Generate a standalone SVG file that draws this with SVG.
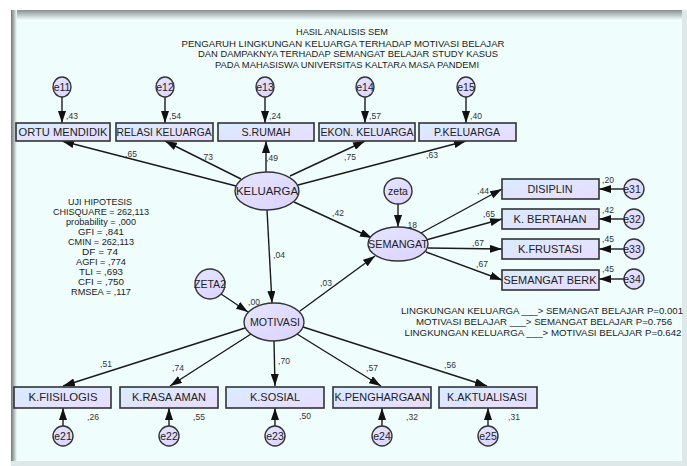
<svg xmlns="http://www.w3.org/2000/svg" width="687" height="466" viewBox="0 0 687 466">
<defs>
<linearGradient id="boxg" x1="0" y1="0" x2="1" y2="1">
<stop offset="0" stop-color="#d8ecff"/>
<stop offset="1" stop-color="#e9dcff"/>
</linearGradient>
<linearGradient id="ellg" x1="0" y1="0" x2="1" y2="1">
<stop offset="0" stop-color="#e4e6ff"/>
<stop offset="1" stop-color="#dcd2ff"/>
</linearGradient>
<linearGradient id="topsh" x1="0" y1="0" x2="0" y2="1">
<stop offset="0" stop-color="#8a9090"/>
<stop offset="1" stop-color="#f0fdfd"/>
</linearGradient>
<linearGradient id="leftsh" x1="0" y1="0" x2="1" y2="0">
<stop offset="0" stop-color="#6e7474"/>
<stop offset="1" stop-color="#f0fdfd"/>
</linearGradient>
<marker id="ah" viewBox="0 0 12 8" refX="12" refY="4" markerWidth="12" markerHeight="8" markerUnits="userSpaceOnUse" orient="auto">
<path d="M0,0 L12,4 L0,8 z" fill="#111"/>
</marker>
<style>
.box{fill:url(#boxg);stroke:#333;stroke-width:1.6}
.ell{fill:url(#ellg);stroke:#333;stroke-width:1.4}
.lbl{font-family:"Liberation Sans",Arial,sans-serif;font-size:10.5px;fill:#222;text-anchor:middle}
.elbl{font-family:"Liberation Sans",Arial,sans-serif;font-size:10.5px;fill:#222;text-anchor:middle}
.coef{font-family:"Liberation Sans",Arial,sans-serif;font-size:8.5px;fill:#333;text-anchor:middle}
.info{font-family:"Liberation Sans",Arial,sans-serif;font-size:9.5px;fill:#222;text-anchor:middle}
.edge{stroke:#1a1a1a;stroke-width:1.4;fill:none;marker-end:url(#ah)}
</style>
</defs>
<rect x="0" y="0" width="687" height="466" fill="#ffffff"/>
<rect x="11" y="10" width="676" height="456" fill="#f0fdfd"/>
<rect x="11" y="10" width="676" height="10" fill="url(#topsh)"/>
<rect x="11" y="10" width="6" height="456" fill="url(#leftsh)"/>
<rect x="682" y="10" width="5" height="456" fill="#dfe8e8"/>
<rect x="11" y="461" width="676" height="5" fill="#dfe8e8"/>

<g id="title">
<text class="info" x="342" y="35" textLength="92" lengthAdjust="spacingAndGlyphs">HASIL ANALISIS SEM</text>
<text class="info" x="343" y="47" textLength="323" lengthAdjust="spacingAndGlyphs">PENGARUH LINGKUNGAN KELUARGA TERHADAP MOTIVASI BELAJAR</text>
<text class="info" x="348" y="57" textLength="300" lengthAdjust="spacingAndGlyphs">DAN DAMPAKNYA TERHADAP SEMANGAT BELAJAR STUDY KASUS</text>
<text class="info" x="347" y="68" textLength="264" lengthAdjust="spacingAndGlyphs">PADA MAHASISWA UNIVERSITAS  KALTARA MASA PANDEMI</text>
</g>

<g id="stats">
<text class="info" x="100" y="205" textLength="64" lengthAdjust="spacingAndGlyphs">UJI HIPOTESIS</text>
<text class="info" x="101" y="215" textLength="96" lengthAdjust="spacingAndGlyphs">CHISQUARE = 262,113</text>
<text class="info" x="101" y="225" textLength="70" lengthAdjust="spacingAndGlyphs">probability = ,000</text>
<text class="info" x="101" y="235" textLength="46" lengthAdjust="spacingAndGlyphs">GFI = ,841</text>
<text class="info" x="101" y="245" textLength="66" lengthAdjust="spacingAndGlyphs">CMIN = 262,113</text>
<text class="info" x="100" y="255" textLength="36" lengthAdjust="spacingAndGlyphs">DF = 74</text>
<text class="info" x="101" y="265" textLength="50" lengthAdjust="spacingAndGlyphs">AGFI = ,774</text>
<text class="info" x="101" y="275" textLength="44" lengthAdjust="spacingAndGlyphs">TLI = ,693</text>
<text class="info" x="101" y="285" textLength="46" lengthAdjust="spacingAndGlyphs">CFI = ,750</text>
<text class="info" x="101" y="295" textLength="60" lengthAdjust="spacingAndGlyphs">RMSEA = ,117</text>
</g>

<g id="pvalues">
<text class="info" x="542" y="314" textLength="282" lengthAdjust="spacingAndGlyphs">LINGKUNGAN KELUARGA ___&gt; SEMANGAT BELAJAR P=0.001</text>
<text class="info" x="544" y="325" textLength="256" lengthAdjust="spacingAndGlyphs">MOTIVASI BELAJAR ___&gt; SEMANGAT BELAJAR P=0.756</text>
<text class="info" x="543" y="336" textLength="277" lengthAdjust="spacingAndGlyphs">LINGKUNGAN KELUARGA ___&gt; MOTIVASI BELAJAR P=0.642</text>
</g>

<g id="connectors">
<line class="edge" x1="62" y1="97" x2="62" y2="123"/>
<line class="edge" x1="165" y1="97" x2="165" y2="123"/>
<line class="edge" x1="265" y1="97" x2="265" y2="123"/>
<line class="edge" x1="365" y1="97" x2="365" y2="123"/>
<line class="edge" x1="466" y1="97" x2="466" y2="123"/>
<line class="edge" x1="236" y1="186" x2="62" y2="141"/>
<line class="edge" x1="241" y1="179" x2="165" y2="141"/>
<line class="edge" x1="266" y1="172" x2="266" y2="141"/>
<line class="edge" x1="290" y1="176" x2="365" y2="141"/>
<line class="edge" x1="298" y1="185" x2="466" y2="141"/>
<line class="edge" x1="294" y1="202" x2="372" y2="238"/>
<line class="edge" x1="267" y1="210" x2="272" y2="303"/>
<line class="edge" x1="398" y1="204" x2="398" y2="227"/>
<line class="edge" x1="421" y1="233" x2="502" y2="189"/>
<line class="edge" x1="426" y1="240" x2="502" y2="219"/>
<line class="edge" x1="428" y1="248" x2="502" y2="249"/>
<line class="edge" x1="426" y1="252" x2="502" y2="280"/>
<line class="edge" x1="624" y1="189" x2="599" y2="189"/>
<line class="edge" x1="624" y1="219" x2="599" y2="219"/>
<line class="edge" x1="624" y1="249" x2="599" y2="249"/>
<line class="edge" x1="624" y1="279" x2="599" y2="279"/>
<line class="edge" x1="300" y1="311" x2="375" y2="256"/>
<line class="edge" x1="221" y1="294" x2="248" y2="312"/>
<line class="edge" x1="245" y1="328" x2="63" y2="386"/>
<line class="edge" x1="251" y1="334" x2="170" y2="386"/>
<line class="edge" x1="274" y1="341" x2="275" y2="386"/>
<line class="edge" x1="297" y1="334" x2="381" y2="386"/>
<line class="edge" x1="303" y1="327" x2="487" y2="386"/>
<line class="edge" x1="63" y1="426" x2="63" y2="408"/>
<line class="edge" x1="169" y1="426" x2="169" y2="408"/>
<line class="edge" x1="275" y1="426" x2="275" y2="408"/>
<line class="edge" x1="382" y1="426" x2="382" y2="408"/>
<line class="edge" x1="488" y1="426" x2="488" y2="408"/>
</g>

<g id="coefs">
<text class="coef" x="72" y="119">,43</text>
<text class="coef" x="175" y="119">,54</text>
<text class="coef" x="275" y="119">,24</text>
<text class="coef" x="375" y="119">,57</text>
<text class="coef" x="476" y="119">,40</text>
<text class="coef" x="131" y="157">,65</text>
<text class="coef" x="207" y="160">,73</text>
<text class="coef" x="272" y="161">,49</text>
<text class="coef" x="350" y="160">,75</text>
<text class="coef" x="432" y="158">,63</text>
<text class="coef" x="338" y="216">,42</text>
<text class="coef" x="279" y="258">,04</text>
<text class="coef" x="411" y="228">,18</text>
<text class="coef" x="254" y="305">,00</text>
<text class="coef" x="326" y="286">,03</text>
<text class="coef" x="483" y="194">,44</text>
<text class="coef" x="489" y="217">,65</text>
<text class="coef" x="478" y="246">,67</text>
<text class="coef" x="482" y="267">,67</text>
<text class="coef" x="608" y="183">,20</text>
<text class="coef" x="608" y="213">,42</text>
<text class="coef" x="608" y="242">,45</text>
<text class="coef" x="608" y="272">,45</text>
<text class="coef" x="106" y="367">,51</text>
<text class="coef" x="178" y="371">,74</text>
<text class="coef" x="284" y="364">,70</text>
<text class="coef" x="372" y="371">,57</text>
<text class="coef" x="450" y="368">,56</text>
<text class="coef" x="93" y="420">,26</text>
<text class="coef" x="199" y="420">,55</text>
<text class="coef" x="305" y="419">,50</text>
<text class="coef" x="412" y="420">,32</text>
<text class="coef" x="514" y="420">,31</text>
</g>

<g id="e11"><ellipse class="ell" cx="62" cy="87" rx="9" ry="10"/><text class="elbl" x="62" y="91">e11</text></g>
<g id="e12"><ellipse class="ell" cx="165" cy="87" rx="9" ry="10"/><text class="elbl" x="165" y="91">e12</text></g>
<g id="e13"><ellipse class="ell" cx="265" cy="87" rx="9" ry="10"/><text class="elbl" x="265" y="91">e13</text></g>
<g id="e14"><ellipse class="ell" cx="365" cy="87" rx="9" ry="10"/><text class="elbl" x="365" y="91">e14</text></g>
<g id="e15"><ellipse class="ell" cx="466" cy="87" rx="9" ry="10"/><text class="elbl" x="466" y="91">e15</text></g>

<g id="ortu"><rect class="box" x="16" y="123" width="94" height="18"/><text class="lbl" x="63" y="136" textLength="89" lengthAdjust="spacingAndGlyphs">ORTU MENDIDIK</text></g>
<g id="relasi"><rect class="box" x="116" y="123" width="97" height="18"/><text class="lbl" x="164" y="136" textLength="95" lengthAdjust="spacingAndGlyphs">RELASI KELUARGA</text></g>
<g id="srumah"><rect class="box" x="218" y="123" width="96" height="18"/><text class="lbl" x="266" y="136" textLength="49" lengthAdjust="spacingAndGlyphs">S.RUMAH</text></g>
<g id="ekon"><rect class="box" x="319" y="123" width="96" height="18"/><text class="lbl" x="367" y="136" textLength="93" lengthAdjust="spacingAndGlyphs">EKON. KELUARGA</text></g>
<g id="pkel"><rect class="box" x="419" y="123" width="97" height="18"/><text class="lbl" x="467" y="136" textLength="66" lengthAdjust="spacingAndGlyphs">P.KELUARGA</text></g>

<g id="keluarga"><ellipse class="ell" cx="267" cy="191" rx="32" ry="19"/><text class="lbl" x="267" y="195" font-size="11" textLength="62" lengthAdjust="spacingAndGlyphs">KELUARGA</text></g>
<g id="zeta"><ellipse class="ell" cx="398" cy="191" rx="14" ry="13"/><text class="lbl" x="398" y="195">zeta</text></g>
<g id="semangat"><ellipse class="ell" cx="398" cy="244" rx="30" ry="17"/><text class="lbl" x="398" y="248" textLength="60" lengthAdjust="spacingAndGlyphs">SEMANGAT</text></g>
<g id="zeta2"><ellipse class="ell" cx="210" cy="284" rx="15" ry="15"/><text class="lbl" x="210" y="288" textLength="32" lengthAdjust="spacingAndGlyphs">ZETA2</text></g>
<g id="motivasi"><ellipse class="ell" cx="274" cy="322" rx="30" ry="19"/><text class="lbl" x="275" y="326" textLength="50" lengthAdjust="spacingAndGlyphs">MOTIVASI</text></g>

<g id="disiplin"><rect class="box" x="502" y="179" width="97" height="20"/><text class="lbl" x="550" y="193" textLength="45" lengthAdjust="spacingAndGlyphs">DISIPLIN</text></g>
<g id="bertahan"><rect class="box" x="502" y="209" width="97" height="20"/><text class="lbl" x="550" y="223" textLength="73" lengthAdjust="spacingAndGlyphs">K. BERTAHAN</text></g>
<g id="frustasi"><rect class="box" x="502" y="239" width="97" height="20"/><text class="lbl" x="550" y="253" textLength="64" lengthAdjust="spacingAndGlyphs">K.FRUSTASI</text></g>
<g id="semberk"><rect class="box" x="502" y="270" width="97" height="20"/><text class="lbl" x="550" y="284" textLength="93" lengthAdjust="spacingAndGlyphs">SEMANGAT BERK</text></g>

<g id="e31"><ellipse class="ell" cx="634" cy="189" rx="10" ry="10"/><text class="elbl" x="632" y="193">e31</text></g>
<g id="e32"><ellipse class="ell" cx="634" cy="219" rx="10" ry="10"/><text class="elbl" x="632" y="223">e32</text></g>
<g id="e33"><ellipse class="ell" cx="634" cy="249" rx="10" ry="10"/><text class="elbl" x="632" y="253">e33</text></g>
<g id="e34"><ellipse class="ell" cx="634" cy="279" rx="10" ry="10"/><text class="elbl" x="632" y="283">e34</text></g>

<g id="fisiologis"><rect class="box" x="14" y="387" width="97" height="21"/><text class="lbl" x="63" y="401" textLength="69" lengthAdjust="spacingAndGlyphs">K.FIISILOGIS</text></g>
<g id="rasaaman"><rect class="box" x="120" y="387" width="98" height="21"/><text class="lbl" x="169" y="401" textLength="74" lengthAdjust="spacingAndGlyphs">K.RASA AMAN</text></g>
<g id="sosial"><rect class="box" x="226" y="387" width="98" height="21"/><text class="lbl" x="275" y="401" textLength="50" lengthAdjust="spacingAndGlyphs">K.SOSIAL</text></g>
<g id="penghargaan"><rect class="box" x="333" y="387" width="98" height="21"/><text class="lbl" x="382" y="401" textLength="95" lengthAdjust="spacingAndGlyphs">K.PENGHARGAAN</text></g>
<g id="aktualisasi"><rect class="box" x="439" y="387" width="98" height="21"/><text class="lbl" x="487" y="401" textLength="80" lengthAdjust="spacingAndGlyphs">K.AKTUALISASI</text></g>

<g id="e21"><ellipse class="ell" cx="63" cy="436" rx="10" ry="10"/><text class="elbl" x="63" y="440">e21</text></g>
<g id="e22"><ellipse class="ell" cx="169" cy="436" rx="10" ry="10"/><text class="elbl" x="169" y="440">e22</text></g>
<g id="e23"><ellipse class="ell" cx="275" cy="436" rx="10" ry="10"/><text class="elbl" x="275" y="440">e23</text></g>
<g id="e24"><ellipse class="ell" cx="382" cy="436" rx="10" ry="10"/><text class="elbl" x="382" y="440">e24</text></g>
<g id="e25"><ellipse class="ell" cx="488" cy="436" rx="10" ry="10"/><text class="elbl" x="488" y="440">e25</text></g>
</svg>
